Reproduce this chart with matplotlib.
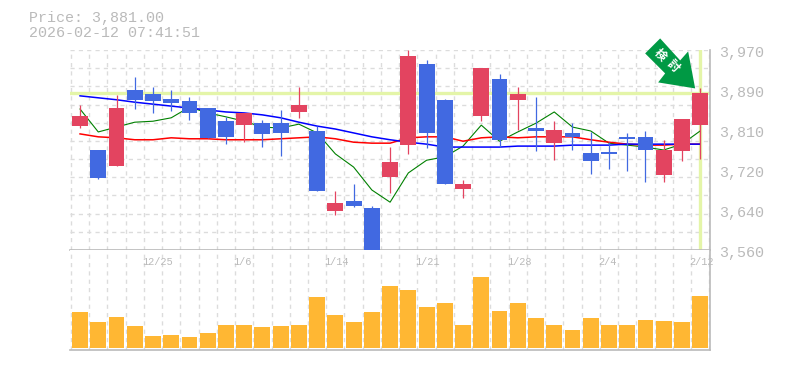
import matplotlib
matplotlib.use('Agg')
import matplotlib.pyplot as plt
from matplotlib.patches import Polygon
from matplotlib.transforms import IdentityTransform

# daily prices, 12/17 .. 2/12
opens = [3814, 3765, 3732, 3888, 3880, 3870, 3865, 3851, 3824, 3816, 3820, 3820,
         3843, 3804, 3640, 3660, 3646, 3710, 3775, 3941, 3868, 3685, 3835, 3911,
         3868, 3810, 3779, 3800, 3759, 3761, 3792, 3792, 3714, 3763, 3816]
closes = [3835, 3708, 3851, 3868, 3865, 3861, 3841, 3790, 3792, 3841, 3798, 3800,
          3857, 3681, 3656, 3650, 3560, 3740, 3958, 3800, 3695, 3695, 3933, 3786,
          3880, 3804, 3806, 3792, 3742, 3757, 3788, 3765, 3765, 3829, 3881]
highs = [3857, 3765, 3878, 3915, 3894, 3888, 3874, 3851, 3833, 3841, 3827, 3847,
         3894, 3814, 3681, 3695, 3650, 3771, 3970, 3950, 3870, 3704, 3933, 3921,
         3894, 3874, 3824, 3820, 3802, 3781, 3800, 3804, 3786, 3829, 3892]
lows = [3810, 3706, 3732, 3849, 3841, 3845, 3827, 3790, 3777, 3781, 3771, 3753,
        3831, 3681, 3632, 3648, 3560, 3677, 3757, 3769, 3695, 3667, 3824, 3771,
        3806, 3763, 3744, 3765, 3716, 3726, 3722, 3699, 3699, 3742, 3747]
ma_short = [3849, 3802, 3812, 3822, 3824, 3831, 3853, 3841, 3833, 3824, 3812, 3810,
            3818, 3800, 3757, 3730, 3683, 3658, 3718, 3744, 3751, 3773, 3816, 3783,
            3802, 3820, 3843, 3812, 3804, 3779, 3775, 3771, 3765, 3777, 3804]
ma_mid = [3798, 3792, 3790, 3786, 3786, 3790, 3788, 3788, 3786, 3786, 3786, 3788,
          3790, 3792, 3788, 3781, 3779, 3779, 3790, 3792, 3792, 3783, 3790, 3792,
          3790, 3792, 3792, 3792, 3786, 3781, 3777, 3775, 3775, 3777, 3777]
ma_long = [3876, 3872, 3868, 3863, 3859, 3855, 3851, 3847, 3843, 3841, 3837, 3831,
           3822, 3814, 3808, 3800, 3792, 3786, 3781, 3777, 3771, 3771, 3771, 3771,
           3773, 3773, 3773, 3775, 3775, 3775, 3777, 3777, 3777, 3777, 3777]
volumes = [36, 26, 31, 22, 12, 13, 11, 15, 23, 23, 21, 22, 23, 51, 33, 26, 36, 62,
           58, 41, 45, 23, 71, 37, 45, 30, 23, 18, 30, 23, 23, 28, 27, 26, 52]

date_pos = [4, 9, 14, 19, 24, 29, 34]
date_labels = ['12/25', '1/6', '1/14', '1/21', '1/28', '2/4', '2/12']
price_ticks = [3970, 3888, 3806, 3724, 3642, 3560]
price_labels = ['3,970', '3,890', '3,810', '3,720', '3,640', '3,560']
last_price = 3881

RED = '#e34460'
BLUE = '#4169e1'
ORANGE = '#ffb733'
GRID = '#dcdcdc'
TEXT = '#bababa'
HILITE = '#e4f5a8'
ARROW = '#009944'

W, H = 785, 370
fig = plt.figure(figsize=(W / 100, H / 100), dpi=100)
ax = fig.add_axes([70 / W, 1 - 250 / H, 640 / W, 200 / H])
vol = fig.add_axes([70 / W, 1 - 350 / H, 640 / W, 100 / H])

n = len(closes)
xs = list(range(n))

for a in (ax, vol):
    a.set_xlim(-0.55, n - 0.46)
    a.set_xticks([i - 0.5 for i in range(n + 1)])
    a.tick_params(length=0, labelleft=False, labelbottom=False)
    a.grid(axis='x', color=GRID, lw=1, ls=(0, (3, 3)))
    a.set_axisbelow(True)
    for s in ('left', 'top'):
        a.spines[s].set_visible(False)
    for s in ('right', 'bottom'):
        a.spines[s].set_color(TEXT)
        a.spines[s].set_linewidth(1.2)

# price panel, 11 grid steps
ax.set_ylim(3560, 3970)
ax.set_yticks([3560 + 410 * i / 11 for i in range(12)])
ax.grid(axis='y', color=GRID, lw=1, ls=(0, (3, 3)))

ax.axhline(last_price, color=HILITE, lw=2.4, zorder=1.5)
ax.axvline(34, ymin=0, ymax=1, color=HILITE, lw=2.4, zorder=1.5)

ax.plot(xs, ma_short, color='green', lw=0.8, zorder=2.2)
for i in xs:
    c = RED if closes[i] >= opens[i] else BLUE
    ax.vlines(i, lows[i], highs[i], color=c, lw=0.9, zorder=3)
    ax.bar(i, abs(closes[i] - opens[i]), bottom=min(opens[i], closes[i]),
           width=0.87, color=c, zorder=3)
ax.plot(xs, ma_mid, color='red', lw=1.1, zorder=2.5)
ax.plot(xs, ma_long, color='blue', lw=1.1, zorder=2.6)

for v, s in zip(price_ticks, price_labels):
    ax.annotate(s, (1, v), xycoords=('axes fraction', 'data'), xytext=(9, -3),
                textcoords='offset pixels', ha='left', va='center',
                family='Liberation Mono', fontsize=10.8, color=TEXT,
                annotation_clip=False)

# volume panel
vol.set_ylim(-2, 98)
vol.set_yticks([])
vol.bar(xs, volumes, width=0.87, color=ORANGE, zorder=3)
for p, s in zip(date_pos, date_labels):
    vol.annotate(s, (p, 1), xycoords=('data', 'axes fraction'), xytext=(-11, -12),
                 textcoords='offset pixels', ha='left', va='center',
                 family='Liberation Mono', fontsize=7.4, color=TEXT,
                 annotation_clip=False)

fig.text(29 / W, 1 - 18 / H, 'Price: 3,881.00', family='Liberation Mono',
         fontsize=10.8, color=TEXT, va='center')
fig.text(29 / W, 1 - 33 / H, '2026-02-12 07:41:51', family='Liberation Mono',
         fontsize=10.8, color=TEXT, va='center')

# arrow, offsets in pixels from its tip just above the last close
tx, ty = ax.transData.transform((34, last_price))
tx, ty = tx - 5, ty + 5
tip_off = [(-35, 50), (-50, 35), (-30, 15), (-37, 6), (0, 0), (-7, 37), (-15, 28)]
fig.add_artist(Polygon([(tx + dx, ty + dy) for dx, dy in tip_off], closed=True,
                       facecolor=ARROW, edgecolor='none',
                       transform=IdentityTransform(), zorder=5))
# two characters set apart along the arrow
for ch, (px, py) in zip('検討', [(660.5, 54.5), (672.5, 65.5)]):
    fig.text(px / W, 1 - py / H, ch, family=['Noto Sans CJK JP', 'DejaVu Sans'],
             fontsize=8.5, fontweight='bold', color='white', rotation=-45,
             rotation_mode='anchor', ha='center', va='center', zorder=6)

fig.savefig('out.png', dpi=100)
